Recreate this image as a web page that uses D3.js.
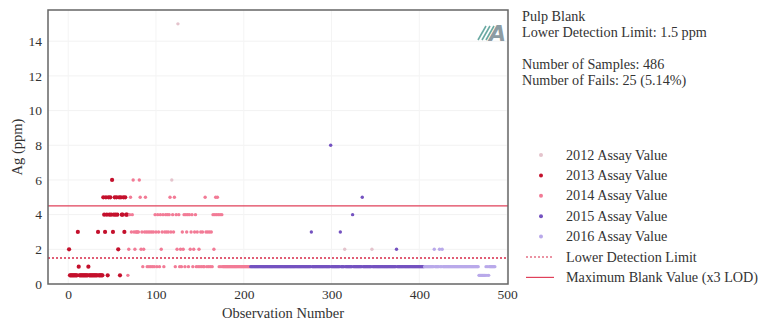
<!DOCTYPE html>
<html><head><meta charset="utf-8">
<script src="https://cdn.jsdelivr.net/npm/d3@7"></script>
<style>body{margin:0;background:#fff}svg{display:block}</style>
</head><body><svg id="c" width="758" height="322"></svg>
<script>
// ---- data ----
const seriesNames = ["2012 Assay Value","2013 Assay Value","2014 Assay Value","2015 Assay Value","2016 Assay Value"];
const seriesColors = ["#e4c3cc","#c4102c","#f27b96","#7452c0","#b9a9ea"];
// 2012: explicit observations
const obs2012 = [118, 125, 315, 346];
const vals2012 = [6, 15, 2, 2];
// consecutive observations starting at given number (null = observation belongs to another year)
const start2013 = 1;
const vals2013 = [2,.5,.5,.5,.5,.5,.5,.5,.5,.5, 3,1,.5,.5,.5,.5,.5,.5,.5,.5, .5,.5,1,.5,.5,.5,.5,.5,.5,.5,
  .5,.5,.5,3,.5,.5,.5,.5,.5,5, 4,3,5,4,.5,5,4,5,4,6, 3,4,5,4,5,4,2,5,.5,5, 4,4,5,3,5,4,4];
const start2014 = 68;
const vals2014 = [.5,2,4,5,3,4,6,3,2,3, 3,3,3,6,5,2,3,1,2,3, 5,3,1,3,1,3,1,3,1,3, 1,4,3,1,4,3,1,4,2,3,
  4,1,3,4,3,4,3,4,5,3, null,4,3,5,1,4,2,null,4,1, 2,1,3,2,4,1,4,3,4,1, 4,2,3,4,1,2,3,4,1,3,
  1,2,1,3,1,3,1,1,5,3, 1,3,1,3,1,3,1,4,2,4, 5,4,5,4,1,4,1,4,1,1, 1,1,1,1,1,1,1,1,1,1,
  1,1,1,1,1,1,1,1,1,1, 1,1,1,1,1,1,1,1,1,1];
const start2015 = 208;
const vals2015 = [1,1,1,1,1,1,1,1,1,1, 1,1,1,1,1,1,1,1,1,1, 1,1,1,1,1,1,1,1,1,1, 1,1,1,1,1,1,1,1,1,1,
  1,1,1,1,1,1,1,1,1,1, 1,1,1,1,1,1,1,1,1,1, 1,1,1,1,1,1,1,1,1,3, 1,1,1,1,1,1,1,1,1,1,
  1,1,1,1,1,1,1,1,1,1, 1,8,1,1,1,1,1,1,1,1, 1,1,3,1,1,1,1,null,1,1, 1,1,1,1,1,1,4,1,1,1,
  1,1,1,1,1,1,1,5,1,1, 1,1,1,1,1,1,1,1,null,1, 1,1,1,1,1,1,1,1,1,1, 1,1,1,1,1,1,1,1,1,1,
  1,1,1,1,1,1,2,1,1,1, 1,1,1,1,1,1,1,1,1,1, 1,1,1,1,1,1,1,1,1,1, 1,1,1,1,1,1,1,1];
const start2016 = 406;
const vals2016 = [1,1,1,1,1,1,1,1,1,1, 1,2,1,1,1,1,1,2,1,1, 2,1,1,1,1,1,1,1,1,1, 1,1,1,1,1,1,1,1,1,1,
  1,1,1,1,1,1,1,1,1,1, 1,1,1,1,1,1,1,1,1,1, 1,1,.5,.5,.5,.5,.5,.5,.5,.5, 1,.5,1,.5,1,1,1,1,1,1, 1];
const lod = 1.5;
const maxBlank = 4.5;
const xTicks = [0,100,200,300,400,500];
const yTicks = [0,2,4,6,8,10,12,14];
const infoLines = ["Pulp Blank","Lower Detection Limit: 1.5 ppm","","Number of Samples: 486","Number of Fails: 25 (5.14%)"];

// ---- build points ----
function seq(start, vals, s){ return vals.map((v,i)=>v==null?null:{o:start+i, v:v, s:s}).filter(d=>d); }
const points = [
  ...obs2012.map((o,i)=>({o:o, v:vals2012[i], s:0})),
  ...seq(start2013, vals2013, 1),
  ...seq(start2014, vals2014, 2),
  ...seq(start2015, vals2015, 3),
  ...seq(start2016, vals2016, 4)
];

const svg = d3.select("#c");
const font = "'Liberation Serif','DejaVu Serif',serif";
const L=48, R=508, T=10, B=284;
const x = d3.scaleLinear().domain([-23,501]).range([L,R]);
const y = d3.scaleLinear().domain([0,15.8]).range([B,T]);

// faint grid
const g = svg.append("g");
g.selectAll("line.gy").data(yTicks.filter(t=>t>0)).join("line")
  .attr("x1",L).attr("x2",R).attr("y1",d=>y(d)).attr("y2",d=>y(d))
  .attr("stroke","#f2f2f2").attr("stroke-width",1);
g.selectAll("line.gx").data(xTicks).join("line")
  .attr("y1",T).attr("y2",B).attr("x1",d=>x(d)).attr("x2",d=>x(d))
  .attr("stroke","#f4f4f4").attr("stroke-width",1);

// points
svg.append("g").selectAll("circle").data(points).join("circle")
  .attr("cx",d=>x(d.o)).attr("cy",d=>y(d.v)).attr("r",d=>d.s===1?2.1:1.7)
  .attr("fill",d=>seriesColors[d.s]);

// reference lines
svg.append("line").attr("x1",L).attr("x2",R).attr("y1",y(lod)).attr("y2",y(lod))
  .attr("stroke","#d82848").attr("stroke-width",1.3).attr("stroke-dasharray","2,2");
svg.append("line").attr("x1",L).attr("x2",R).attr("y1",y(maxBlank)).attr("y2",y(maxBlank))
  .attr("stroke","#e0405a").attr("stroke-width",1.2);

// frame
svg.append("rect").attr("x",L).attr("y",T).attr("width",R-L).attr("height",B-T)
  .attr("fill","none").attr("stroke","#666").attr("stroke-width",1.5);

// axes
const ax = svg.append("g").attr("transform",`translate(0,${B})`)
  .call(d3.axisBottom(x).tickValues(xTicks).tickSize(0).tickPadding(5));
const ay = svg.append("g").attr("transform",`translate(${L},0)`)
  .call(d3.axisLeft(y).tickValues(yTicks).tickSize(0).tickPadding(6));
[ax,ay].forEach(a=>{a.select(".domain").remove();
  a.selectAll("text").attr("font-family",font).attr("font-size",13.5).attr("fill","#333");});

svg.append("text").attr("x",283).attr("y",318).attr("text-anchor","middle")
  .attr("font-family",font).attr("font-size",14.5).attr("fill","#333").text("Observation Number");
svg.append("text").attr("transform",`translate(22,${(T+B)/2}) rotate(-90)`).attr("text-anchor","middle")
  .attr("font-family",font).attr("font-size",14.5).attr("fill","#333").text("Ag (ppm)");

// logo
const lg = svg.append("g");
[0,1,2].forEach(i=>lg.append("line").attr("x1",478+i*4).attr("y1",40).attr("x2",486+i*4).attr("y2",26)
  .attr("stroke","#6aa9a2").attr("stroke-width",1.6));
lg.append("text").attr("x",489).attr("y",41).attr("font-family","'DejaVu Sans',sans-serif")
  .attr("font-style","italic").attr("font-weight","bold").attr("font-size",22).attr("fill","#8d9ca3").text("A");

// info text
svg.append("g").selectAll("text").data(infoLines).join("text")
  .attr("x",522).attr("y",(d,i)=>21+i*16).attr("font-family",font).attr("font-size",14.2)
  .attr("fill","#333").text(d=>d);

// legend
const leg = svg.append("g");
const ly = i=>155+i*20.4;
const fs = 14.2;
seriesNames.forEach((n,i)=>{
  leg.append("circle").attr("cx",541).attr("cy",ly(i)).attr("r",2).attr("fill",seriesColors[i]);
  leg.append("text").attr("x",566).attr("y",ly(i)+4.5).attr("font-family",font).attr("font-size",fs).attr("fill","#333").text(n);
});
leg.append("line").attr("x1",526).attr("x2",554).attr("y1",ly(5)).attr("y2",ly(5))
  .attr("stroke","#d82848").attr("stroke-width",1.2).attr("stroke-dasharray","2,2");
leg.append("text").attr("x",566).attr("y",ly(5)+4.5).attr("font-family",font).attr("font-size",fs).attr("fill","#333").text("Lower Detection Limit");
leg.append("line").attr("x1",526).attr("x2",554).attr("y1",ly(6)).attr("y2",ly(6))
  .attr("stroke","#e0405a").attr("stroke-width",1.2);
leg.append("text").attr("x",566).attr("y",ly(6)+4.5).attr("font-family",font).attr("font-size",fs).attr("fill","#333").text("Maximum Blank Value (x3 LOD)");
</script></body></html>
